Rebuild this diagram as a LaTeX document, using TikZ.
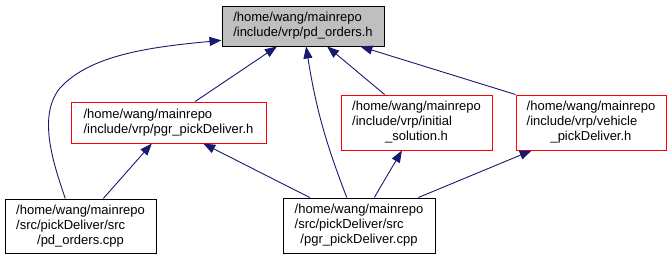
\documentclass[tikz,border=0pt]{standalone}
\usepackage{fontspec}
\setmainfont{Liberation Sans}
\usetikzlibrary{arrows.meta,calc}
\definecolor{edgeblue}{RGB}{25,25,112}
\definecolor{focusgrey}{RGB}{191,191,191}
% File label: leading lines flush left, last line centred
\newcommand\filelabel[2]{\begin{tabular}{@{}l@{}}#1\\\multicolumn{1}{@{}c@{}}{#2}\end{tabular}}
\begin{document}
\begin{tikzpicture}[x=1pt,y=-1pt,
  file/.style={draw=black, line width=1pt, inner sep=0pt, align=center,
    font=\fontsize{13}{15}\selectfont},
  header/.style={file, draw=red},
  focus/.style={file, fill=focusgrey},
  dep/.style={draw=edgeblue, line width=0.9pt, -{Triangle[length=12pt,width=9pt]}},
]
\useasboundingbox (0,0) rectangle (672,260);

% files
\node[focus, minimum width=162, minimum height=40] (pdh) at (303,26)
  {\filelabel{/home/wang/mainrepo}{/include/vrp/pd\_orders.h}};
\node[header, minimum width=195, minimum height=41] (ph) at (168.5,122.5)
  {\filelabel{/home/wang/mainrepo}{/include/vrp/pgr\_pickDeliver.h}};
\node[header, minimum width=151, minimum height=55] (init) at (416.5,122.5)
  {\filelabel{/home/wang/mainrepo\\/include/vrp/initial}{\_solution.h}};
\node[header, minimum width=150, minimum height=55] (veh) at (591,122.5)
  {\filelabel{/home/wang/mainrepo\\/include/vrp/vehicle}{\_pickDeliver.h}};
\node[file, minimum width=151, minimum height=54] (pdcpp) at (80.5,226)
  {\filelabel{/home/wang/mainrepo\\/src/pickDeliver/src}{/pd\_orders.cpp}};
\node[file, minimum width=152, minimum height=55] (pgrcpp) at (359,225.5)
  {\filelabel{/home/wang/mainrepo\\/src/pickDeliver/src}{/pgr\_pickDeliver.cpp}};

% include dependencies
\draw[dep] ($(pdcpp.north west)!0.40!(pdcpp.north east)$)
  .. controls (52,160) and (38,115) .. (60,88)
  .. controls (90,55) and (150,47) .. ($(pdh.north west)!0.85!(pdh.south west)$);
\draw[dep] ($(pdcpp.north west)!0.65!(pdcpp.north east)$) -- ($(ph.south west)!0.415!(ph.south east)$);
\draw[dep] ($(ph.north west)!0.636!(ph.north east)$) -- ($(pdh.south west)!0.34!(pdh.south east)$);
\draw[dep] ($(pgrcpp.north west)!0.178!(pgrcpp.north east)$) -- ($(ph.south west)!0.677!(ph.south east)$);
\draw[dep] ($(pgrcpp.north west)!0.42!(pgrcpp.north east)$) to[bend left=6] ($(pdh.south west)!0.519!(pdh.south east)$);
\draw[dep] ($(pgrcpp.north west)!0.60!(pgrcpp.north east)$) -- ($(init.south west)!0.404!(init.south east)$);
\draw[dep] ($(pgrcpp.north west)!0.888!(pgrcpp.north east)$) -- ($(veh.south west)!0.107!(veh.south east)$);
\draw[dep] ($(init.north west)!0.29!(init.north east)$) -- ($(pdh.south west)!0.648!(pdh.south east)$);
\draw[dep] (veh.north west) -- ($(pdh.south west)!0.852!(pdh.south east)$);
\end{tikzpicture}
\end{document}
